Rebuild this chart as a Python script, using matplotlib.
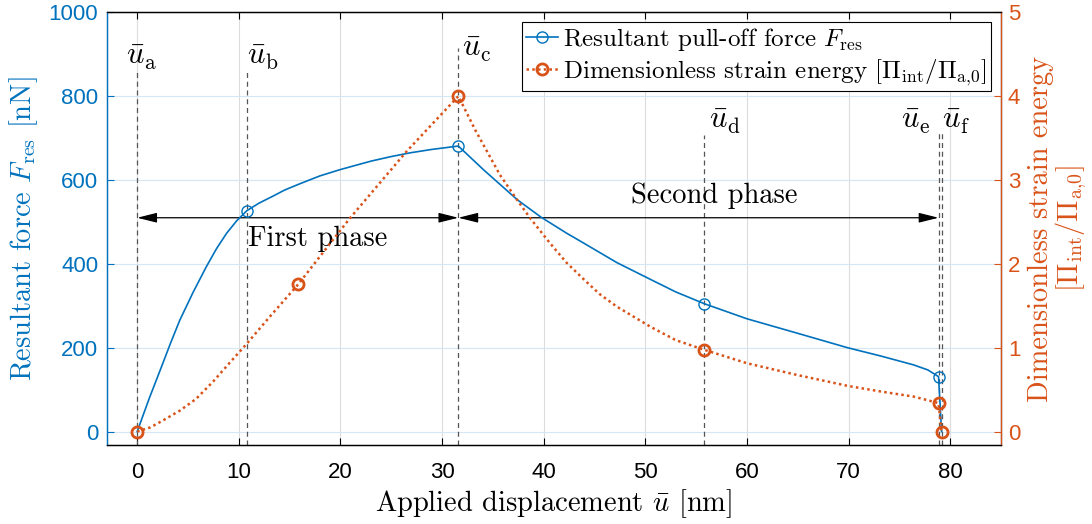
import matplotlib
matplotlib.use('Agg')
import matplotlib.pyplot as plt

plt.rcParams['font.family'] = 'Liberation Sans'
plt.rcParams['mathtext.fontset'] = 'cm'
plt.rcParams['axes.unicode_minus'] = False

BLUE = '#0072BD'
ORANGE = '#D95319'
TXT = 'cmr10'

# resultant pull-off force [nN] vs applied displacement [nm]
u_force = [0, 1.2, 2.4, 3.3, 4.2, 5.5, 6.8, 7.8, 8.8, 9.8, 10.8, 12.0, 13.4, 14.5, 16.0, 18.0,
           20.0, 23.0, 25.0, 26.9, 29.0, 31.6, 34.1, 37.4, 39.7, 42.2, 43.9, 47.2, 50.5, 53.0,
           55.8, 60.0, 64.9, 69.9, 73.2, 76.4, 77.8, 78.85, 79.15]
force = [0, 80, 155, 212, 266, 332, 393, 436, 473, 503, 527, 545, 562, 576, 591, 610,
         625, 645, 656, 665, 673, 681, 624, 553, 512, 474, 450, 403, 363, 333,
         305, 269, 235, 200, 180, 159, 147, 131, 0]
force_marks = [0, 10, 21, 30, 37, 38]

# dimensionless strain energy
u_energy = [0, 1.3, 2.5, 4.2, 5.8, 7.5, 9.1, 10.8, 13.05, 15.85, 20.9, 26.5, 31.6, 33.25,
            35.7, 37.4, 38.7, 40.6, 42.2, 43.9, 45.5, 47.2, 50.5, 53.0, 55.8, 60.0, 64.9,
            69.9, 73.2, 76.4, 78.85, 79.15]
energy = [0, 0.05, 0.13, 0.25, 0.39, 0.6, 0.82, 1.05, 1.37, 1.757, 2.54, 3.34, 4.0, 3.6,
          3.06, 2.76, 2.54, 2.25, 2.02, 1.82, 1.64, 1.49, 1.25, 1.09, 0.975, 0.815, 0.676,
          0.545, 0.477, 0.417, 0.34, 0.0]
energy_marks = [0, 9, 12, 24, 30, 31]

# characteristic displacements: name, x, top of dashed line, label x, label y, align
u_names = ['a', 'b', 'c', 'd', 'e', 'f']
u_pos = [0, 10.8, 31.6, 55.8, 78.85, 79.15]
u_line_top = [862, 862, 915, 707, 719, 712]
u_lab_x = [-1.06, 10.76, 31.94, 56.3, 78.1, 79.2]
u_lab_y = [893, 893, 912, 741, 741, 741]
u_lab_ha = ['left', 'left', 'left', 'left', 'right', 'left']

arrow_y = 510

fig = plt.figure(figsize=(10.92, 5.24), dpi=100)
ax = fig.add_axes([0.0977, 0.1508, 0.819, 0.8257])
ax2 = ax.twinx()

ax.set_xlim(-3, 85)
ax.set_ylim(-32, 1000)
ax2.set_ylim(-0.16, 5)
ax.set_xticks(range(0, 81, 10))
ax.set_yticks(range(0, 1001, 200))
ax2.set_yticks(range(0, 6))

# grid like MATLAB (y grid takes the left axis colour)
ax.grid(True, axis='x', color='#dcdcdc', lw=0.8)
ax.grid(True, axis='y', color='#d6e7f3', lw=0.8)
ax.set_axisbelow(True)

ax.tick_params(axis='x', direction='in', top=True, length=5, labelsize=16, pad=12)
ax.tick_params(axis='y', direction='in', length=5, colors=BLUE, labelsize=16, pad=6)
ax2.tick_params(axis='y', direction='in', length=5, colors=ORANGE, labelsize=16, pad=5)
ax.spines['left'].set_color(BLUE)
ax2.spines['left'].set_color(BLUE)
ax2.spines['right'].set_color(ORANGE)
for a in (ax, ax2):
    for s in a.spines.values():
        s.set_linewidth(0.9)

# dashed markers for u_a ... u_f
for n, x, top, lx, ly, ha in zip(u_names, u_pos, u_line_top, u_lab_x, u_lab_y, u_lab_ha):
    ax.plot([x, x], [-32, top], ls=(0, (4, 3)), color='#555555', lw=0.9, zorder=1)
    ax.text(lx, ly, r'$\bar{u}_\mathrm{%s}$' % n, fontsize=22, ha=ha, va='center')

# phase arrows
ap = dict(arrowstyle='<|-|>,head_length=0.8,head_width=0.2',
          color='black', lw=0.9, mutation_scale=15, shrinkA=0, shrinkB=0)
ax.annotate('', xy=(u_pos[0], arrow_y), xytext=(u_pos[2], arrow_y), arrowprops=ap)
ax.annotate('', xy=(u_pos[2], arrow_y), xytext=(u_pos[4], arrow_y), arrowprops=ap)
ax.text(10.9, 443, 'First phase', fontfamily=TXT, fontsize=20.5, va='baseline')
ax.text(48.6, 545, 'Second phase', fontfamily=TXT, fontsize=20.5, va='baseline')

l1, = ax.plot(u_force, force, color=BLUE, lw=1.2, marker='o', markersize=8,
              markerfacecolor='none', markeredgewidth=1.0, markevery=force_marks, zorder=3,
              label=r'Resultant pull-off force $F_\mathrm{res}$')
l2, = ax2.plot(u_energy, energy, color=ORANGE, lw=1.8, ls=(0, (1, 1.3)), marker='o', markersize=8,
               markerfacecolor='none', markeredgewidth=2.0, markevery=energy_marks,
               label=r'Dimensionless strain energy $[\Pi_\mathrm{int}/\Pi_\mathrm{a{,}0}]$')

ax.set_xlabel(r'Applied displacement $\bar{u}$ [nm]', fontfamily=TXT, fontsize=20.5, labelpad=3)
ax.set_ylabel(r'Resultant force $F_\mathrm{res}$ [nN]', fontfamily=TXT, fontsize=20.5,
              color=BLUE, labelpad=6)
ax2.set_ylabel('Dimensionless strain energy\n' + r'$[\Pi_\mathrm{int}/\Pi_\mathrm{a{,}0}]$',
               fontfamily=TXT, fontsize=20.5, color=ORANGE, labelpad=5, linespacing=1.0)

leg = ax2.legend(handles=[l1, l2], loc='upper right', fancybox=False, framealpha=1,
                 edgecolor='black', prop={'family': TXT, 'size': 18}, handlelength=1.3,
                 handletextpad=0.2, borderpad=0.15, labelspacing=0.15, borderaxespad=0.4)
leg.get_frame().set_linewidth(0.8)

fig.savefig('out.png', dpi=100)
